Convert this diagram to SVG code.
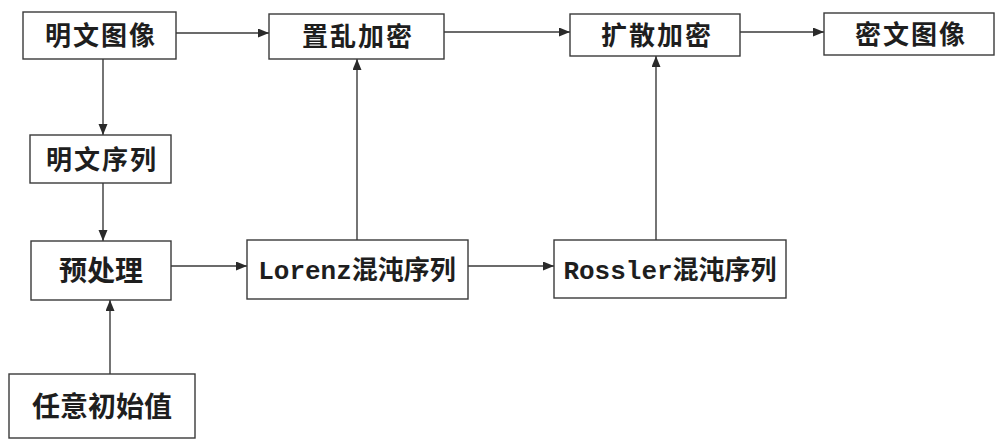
<svg xmlns="http://www.w3.org/2000/svg" width="1000" height="445" viewBox="0 0 1000 445">
  <style>
    .box { fill: #ffffff; stroke: #3a3a3a; stroke-width: 1.4; }
    .lbl { font-family: "Noto Sans CJK SC", sans-serif; font-size: 26px; font-weight: 600; fill: #1e1e1e; text-anchor: middle; letter-spacing: 2px; }
    .lbl2 { font-family: "Noto Sans CJK SC", sans-serif; font-size: 28px; font-weight: 600; fill: #1e1e1e; text-anchor: middle; }
    .mono { font-family: "Liberation Mono", "Noto Sans CJK SC", monospace; font-size: 26px; font-weight: 600; fill: #1e1e1e; text-anchor: middle; }
    .conn { fill: none; stroke: #3a3a3a; stroke-width: 1.4; }
  </style>
  <defs>
    <marker id="arr" markerUnits="userSpaceOnUse" markerWidth="12" markerHeight="10" refX="11" refY="4.5" orient="auto">
      <path d="M0,0 L11,4.5 L0,9 z" fill="#2a2a2a"/>
    </marker>
  </defs>
  <rect width="1000" height="445" fill="#ffffff"/>

  <g id="connectors">
    <path class="conn" d="M176,33 H269" marker-end="url(#arr)"/>
    <path class="conn" d="M444,32 H570" marker-end="url(#arr)"/>
    <path class="conn" d="M740,32 H824" marker-end="url(#arr)"/>
    <path class="conn" d="M103,59 V135" marker-end="url(#arr)"/>
    <path class="conn" d="M103,183 V241" marker-end="url(#arr)"/>
    <path class="conn" d="M171,266 H247" marker-end="url(#arr)"/>
    <path class="conn" d="M468,266 H554" marker-end="url(#arr)"/>
    <path class="conn" d="M357,240 V59" marker-end="url(#arr)"/>
    <path class="conn" d="M656,240 V56" marker-end="url(#arr)"/>
    <path class="conn" d="M110,374 V300" marker-end="url(#arr)"/>
  </g>

  <g id="plain-image">
    <rect class="box" x="23" y="12" width="153" height="47"/>
    <text class="lbl" x="101" y="45">明文图像</text>
  </g>
  <g id="scramble">
    <rect class="box" x="269" y="14" width="175" height="45"/>
    <text class="lbl" x="358" y="46">置乱加密</text>
  </g>
  <g id="diffuse">
    <rect class="box" x="570" y="14" width="170" height="42"/>
    <text class="lbl" x="657" y="45">扩散加密</text>
  </g>
  <g id="cipher-image">
    <rect class="box" x="824" y="13" width="170" height="42"/>
    <text class="lbl" x="911" y="44">密文图像</text>
  </g>
  <g id="plain-seq">
    <rect class="box" x="30" y="135" width="141" height="48"/>
    <text class="lbl" x="102" y="169">明文序列</text>
  </g>
  <g id="preprocess">
    <rect class="box" x="31" y="241" width="140" height="59"/>
    <text class="lbl2" x="101" y="281">预处理</text>
  </g>
  <g id="lorenz">
    <rect class="box" x="247" y="240" width="221" height="59"/>
    <text class="mono" x="357" y="279">Lorenz混沌序列</text>
  </g>
  <g id="rossler">
    <rect class="box" x="554" y="240" width="232" height="58"/>
    <text class="mono" x="670" y="279">Rossler混沌序列</text>
  </g>
  <g id="initial">
    <rect class="box" x="9" y="374" width="186" height="64"/>
    <text class="lbl2" x="102" y="417">任意初始值</text>
  </g>
</svg>
